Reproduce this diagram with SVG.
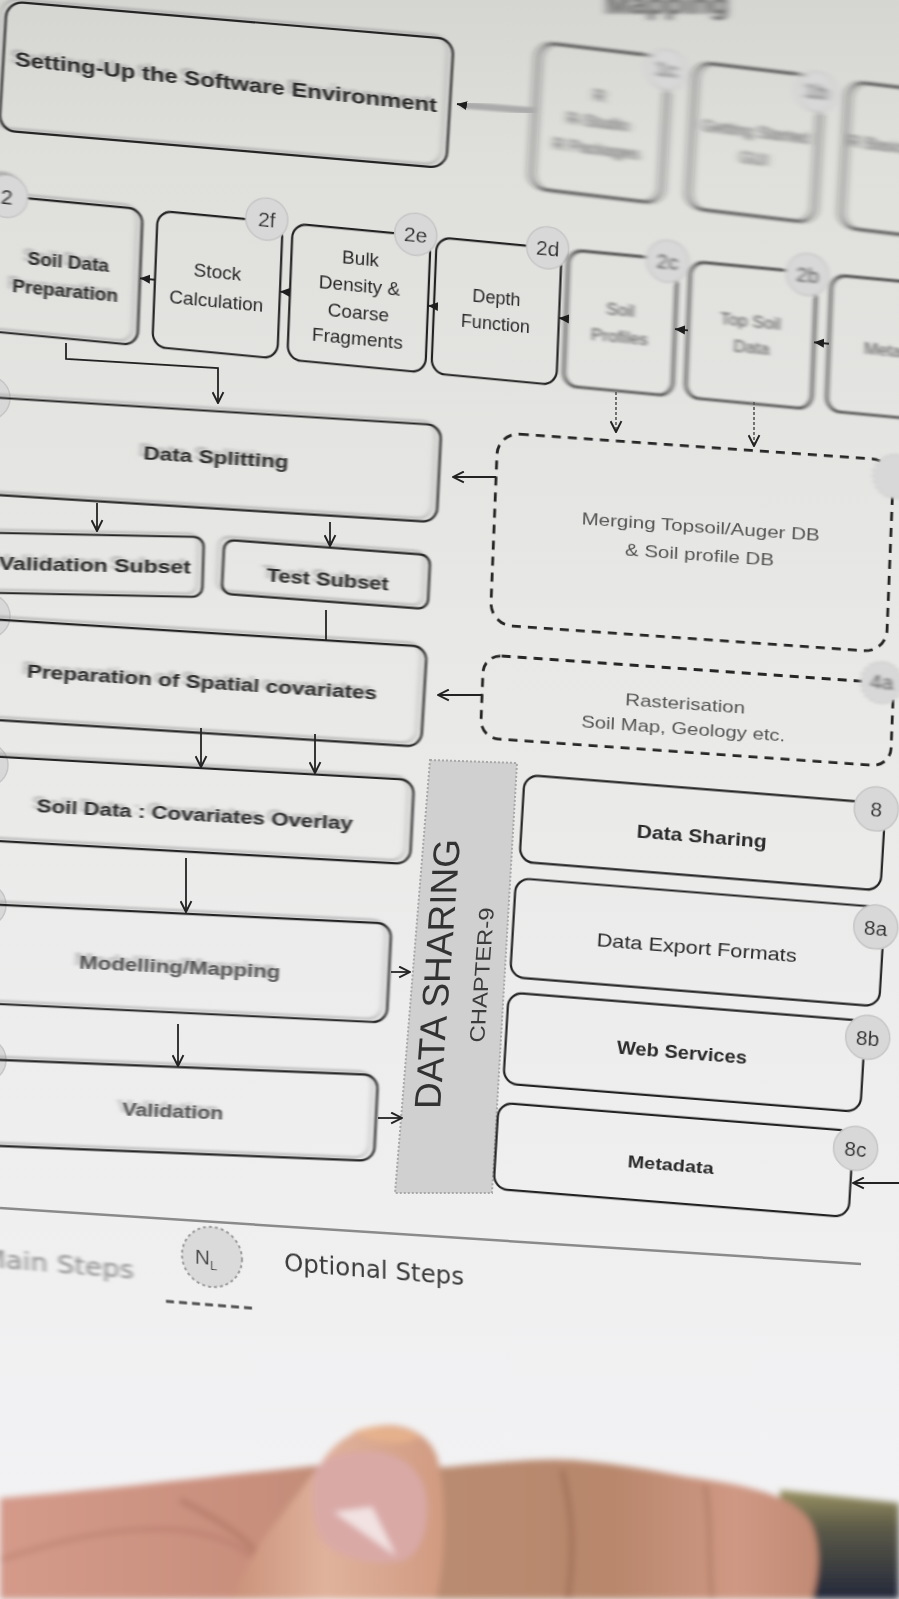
<svg xmlns="http://www.w3.org/2000/svg" width="899" height="1599" viewBox="0 0 899 1599">
  <defs>
    <linearGradient id="paper" x1="0" y1="0" x2="0" y2="1">
      <stop offset="0" stop-color="#d5d5d2"/>
      <stop offset="0.1" stop-color="#dfdfdc"/>
      <stop offset="0.4" stop-color="#e8e8e6"/>
      <stop offset="0.75" stop-color="#efeff0"/>
      <stop offset="1" stop-color="#f3f3f5"/>
    </linearGradient>
    <linearGradient id="skin" x1="0" y1="0" x2="1" y2="0">
      <stop offset="0" stop-color="#d49a8a"/>
      <stop offset="0.3" stop-color="#c98f7d"/>
      <stop offset="0.5" stop-color="#b98c72"/>
      <stop offset="0.75" stop-color="#b8876c"/>
      <stop offset="0.9" stop-color="#cf9884"/>
      <stop offset="1" stop-color="#c08a74"/>
    </linearGradient>
    <linearGradient id="thumb" x1="0" y1="0" x2="1" y2="0">
      <stop offset="0" stop-color="#c99078"/>
      <stop offset="0.45" stop-color="#e0b29c"/>
      <stop offset="1" stop-color="#d09a80"/>
    </linearGradient>
    <linearGradient id="backdrop" x1="0" y1="0" x2="0" y2="1">
      <stop offset="0" stop-color="#9a9262"/>
      <stop offset="0.35" stop-color="#5c5a48"/>
      <stop offset="1" stop-color="#23283a"/>
    </linearGradient>
    <filter id="ghost" x="-10%" y="-25%" width="120%" height="150%" color-interpolation-filters="sRGB">
      <feGaussianBlur in="SourceAlpha" stdDeviation="2.5 1" result="b"/>
      <feOffset in="b" dx="-5" dy="-3" result="o"/>
      <feFlood flood-color="#8a8a8a" flood-opacity="0.55"/>
      <feComposite in2="o" operator="in" result="g"/>
      <feGaussianBlur in="SourceGraphic" stdDeviation="0.8 0.4" result="s"/>
      <feMerge><feMergeNode in="g"/><feMergeNode in="s"/></feMerge>
    </filter>
    <filter id="soft" x="-10%" y="-20%" width="120%" height="140%">
      <feGaussianBlur stdDeviation="0.6"/>
    </filter>
    <filter id="blurMed" x="-20%" y="-20%" width="140%" height="140%">
      <feGaussianBlur stdDeviation="2.2 1"/>
    </filter>
    <filter id="blurHeavy" x="-20%" y="-20%" width="140%" height="140%">
      <feGaussianBlur stdDeviation="4 1.6"/>
    </filter>
    <filter id="blurHand" x="-10%" y="-10%" width="120%" height="120%">
      <feGaussianBlur stdDeviation="3"/>
    </filter>
    <marker id="tri" viewBox="0 0 10 10" refX="10" refY="5" markerWidth="10" markerHeight="10" markerUnits="userSpaceOnUse" orient="auto">
      <path d="M0,0.5 L10,5 L0,9.5 z" fill="#1e1e1e"/>
    </marker>
    <marker id="open" viewBox="0 0 12 12" refX="11" refY="6" markerWidth="13" markerHeight="13" markerUnits="userSpaceOnUse" orient="auto">
      <path d="M1,1 L11,6 L1,11" fill="none" stroke="#222" stroke-width="1.8"/>
    </marker>
    <style>
      .t { font-family: "Liberation Sans", Arial, sans-serif; fill: #2a2a2a; text-anchor: middle; }
      .b { font-weight: bold; }
      .box { fill: none; stroke: #242424; stroke-width: 2.2; }
      .dash { fill: none; stroke: #262626; stroke-width: 2.8; stroke-dasharray: 9 7; }
      .badge { fill: #d8d8d8; stroke: #c6c6c6; stroke-width: 1.5; }
      .bt { font-family: "Liberation Sans", Arial, sans-serif; font-size: 21px; fill: #303030; text-anchor: middle; }
      .thin { fill: #555; }
      .conn { fill: none; stroke: #222; stroke-width: 1.8; }
      .dconn { fill: none; stroke: #555; stroke-width: 1.6; stroke-dasharray: 3 2; }
    </style>
  </defs>

  <!-- sheet -->
  <rect x="0" y="0" width="899" height="1599" fill="url(#paper)"/>

  <!-- partly cut heading above the diagram -->
  <text x="667" y="14" class="t b" font-size="30" filter="url(#blurHeavy)" style="fill:#5a5a5a">Mapping</text>

  <!-- step 1 -->
  <g id="node-setup" filter="url(#ghost)">
    <rect class="box" x="3" y="1" width="447" height="129" rx="16" transform="matrix(1 0.085 -0.06 1 3.9 0)"/>
    <text class="t b" x="226" y="64" font-size="20" textLength="422" lengthAdjust="spacingAndGlyphs" transform="matrix(1 0.11 0 1 0 0)">Setting-Up the Software Environment</text>
  </g>

  <g id="node-1c" transform="matrix(1 0.12 -0.06 1 3 0)" filter="url(#blurHeavy)">
    <rect class="box" x="535" y="-22" width="130" height="146" rx="16"/>
    <text class="t thin" x="598" y="30" font-size="16">R</text>
    <text class="t thin" x="598" y="56" font-size="16">R-Studio</text>
    <text class="t thin" x="598" y="83" font-size="16">R Packages</text>
    <circle class="badge" cx="663" cy="-10" r="20"/>
    <text class="bt" x="663" y="-3">1c</text>
  </g>
  <g id="node-1b" transform="matrix(1 0.12 -0.06 1 3 0)" filter="url(#blurHeavy)">
    <rect class="box" x="692" y="-21" width="126" height="146" rx="16"/>
    <text class="t thin" x="755" y="47" font-size="16">Getting Started</text>
    <text class="t thin" x="755" y="74" font-size="16">GUI</text>
    <circle class="badge" cx="813" cy="-6" r="20"/>
    <text class="bt" x="813" y="1">1b</text>
  </g>
  <g id="node-1a" transform="matrix(1 0.12 -0.06 1 3 0)" filter="url(#blurHeavy)">
    <rect class="box" x="845" y="-20" width="120" height="146" rx="16"/>
    <text class="t thin" x="880" y="45" font-size="16">R Basics</text>
  </g>

  <!-- step 2 row -->
  <g id="node-2" transform="matrix(1 0.095 -0.04 1 10.56 0)" filter="url(#ghost)">
    <rect class="box" x="-15" y="196" width="155" height="136" rx="14"/>
    <text class="t b" x="68" y="262" font-size="19">Soil Data</text>
    <text class="t b" x="66" y="291" font-size="19">Preparation</text>
    <circle class="badge" cx="4" cy="196" r="21"/>
    <text class="bt" x="4" y="204">2</text>
  </g>
  <g id="node-2f" transform="matrix(1 0.095 -0.04 1 10.56 0)" filter="url(#soft)">
    <rect class="box" x="155" y="196" width="125" height="136" rx="14"/>
    <text class="t" x="217" y="258" font-size="19">Stock</text>
    <text class="t" x="217" y="287" font-size="19">Calculation</text>
    <circle class="badge" cx="264" cy="194" r="21"/>
    <text class="bt" x="264" y="202">2f</text>
  </g>
  <g id="node-2e" transform="matrix(1 0.095 -0.04 1 10.56 0)" filter="url(#soft)">
    <rect class="box" x="290" y="196" width="138" height="136" rx="14"/>
    <text class="t" x="359" y="231" font-size="19">Bulk</text>
    <text class="t" x="359" y="258" font-size="19">Density &amp;</text>
    <text class="t" x="359" y="285" font-size="19">Coarse</text>
    <text class="t" x="359" y="311" font-size="19">Fragments</text>
    <circle class="badge" cx="413" cy="195" r="21"/>
    <text class="bt" x="413" y="203">2e</text>
  </g>
  <g id="node-2d" transform="matrix(1 0.095 -0.04 1 10.56 0)" filter="url(#soft)">
    <rect class="box" x="434" y="196" width="125" height="136" rx="14"/>
    <text class="t" x="496" y="257" font-size="18">Depth</text>
    <text class="t" x="496" y="283" font-size="18">Function</text>
    <circle class="badge" cx="545" cy="196" r="21"/>
    <text class="bt" x="545" y="204">2d</text>
  </g>
  <g id="node-2c" transform="matrix(1 0.095 -0.04 1 10.56 0)" filter="url(#blurMed)">
    <rect class="box" x="566" y="196" width="109" height="136" rx="14"/>
    <text class="t thin" x="620" y="257" font-size="17">Soil</text>
    <text class="t thin" x="620" y="284" font-size="17">Profiles</text>
    <circle class="badge" cx="665" cy="198" r="21"/>
    <text class="bt" x="665" y="206">2c</text>
  </g>
  <g id="node-2b" transform="matrix(1 0.095 -0.04 1 10.56 0)" filter="url(#blurMed)">
    <rect class="box" x="688" y="196" width="126" height="136" rx="14"/>
    <text class="t thin" x="750" y="256" font-size="17">Top Soil</text>
    <text class="t thin" x="752" y="282" font-size="17">Data</text>
    <circle class="badge" cx="805" cy="198" r="21"/>
    <text class="bt" x="805" y="206">2b</text>
  </g>
  <g id="node-2a" transform="matrix(1 0.095 -0.04 1 10.56 0)" filter="url(#blurMed)">
    <rect class="box" x="829" y="196" width="121" height="136" rx="14"/>
    <text class="t thin" x="864" y="272" font-size="17" style="text-anchor:start">Metadata</text>
  </g>

  <!-- left column -->
  <circle class="badge" cx="-12" cy="398" r="22" filter="url(#soft)"/>
  <circle class="badge" cx="-12" cy="616" r="22" filter="url(#soft)"/>
  <circle class="badge" cx="-14" cy="765" r="22" filter="url(#soft)"/>
  <circle class="badge" cx="-16" cy="905" r="22" filter="url(#soft)"/>
  <circle class="badge" cx="-16" cy="1060" r="22" filter="url(#soft)"/>

  <g id="node-data-splitting" transform="matrix(1 0.062 -0.05 1 22.3 0)" filter="url(#ghost)">
    <rect class="box" x="-20" y="398" width="459" height="97" rx="14"/>
    <text class="t b" x="216" y="450" font-size="19" textLength="145" lengthAdjust="spacingAndGlyphs">Data Splitting</text>
  </g>
  <g id="node-validation-subset" transform="matrix(1 0.02 -0.03 1 16.9 0)" filter="url(#ghost)">
    <rect class="box" x="-20" y="533" width="223" height="60" rx="10"/>
    <text class="t b" x="95" y="570" font-size="19" textLength="192" lengthAdjust="spacingAndGlyphs">Validation Subset</text>
  </g>
  <g id="node-test-subset" transform="matrix(1 0.075 -0.05 1 27.5 0)" filter="url(#ghost)">
    <rect class="box" x="223" y="523" width="206" height="54" rx="10"/>
    <text class="t b" x="328" y="561" font-size="18" textLength="122" lengthAdjust="spacingAndGlyphs">Test Subset</text>
  </g>
  <g id="node-covariates" transform="matrix(1 0.063 -0.06 1 40.2 0)" filter="url(#ghost)">
    <rect class="box" x="-20" y="620" width="444" height="100" rx="14"/>
    <text class="t b" x="202" y="676" font-size="19" textLength="350" lengthAdjust="spacingAndGlyphs">Preparation of Spatial covariates</text>
  </g>
  <g id="node-overlay" transform="matrix(1 0.056 -0.05 1 39.95 0)" filter="url(#ghost)">
    <rect class="box" x="-20" y="757" width="432" height="84" rx="14"/>
    <text class="t b" x="195" y="810" font-size="19" textLength="316" lengthAdjust="spacingAndGlyphs">Soil Data : Covariates Overlay</text>
  </g>
  <g id="node-modelling" transform="matrix(1 0.048 -0.05 1 47.75 0)" filter="url(#ghost)">
    <rect class="box" x="-20" y="905" width="409" height="99" rx="14"/>
    <text class="t b" x="180" y="965" font-size="18" textLength="201" lengthAdjust="spacingAndGlyphs" style="fill:#555">Modelling/Mapping</text>
  </g>
  <g id="node-validation" transform="matrix(1 0.04 -0.05 1 55.15 0)" filter="url(#ghost)">
    <rect class="box" x="-20" y="1060" width="396" height="86" rx="14"/>
    <text class="t b" x="173" y="1111" font-size="18" textLength="101" lengthAdjust="spacingAndGlyphs" style="fill:#555">Validation</text>
  </g>

  <!-- optional steps -->
  <g id="node-merging" transform="matrix(1 0.07 -0.04 1 19.76 0)" filter="url(#soft)">
    <rect class="dash" x="494" y="398" width="396" height="192" rx="22"/>
    <text class="t thin" x="700" y="484" font-size="17" textLength="238" lengthAdjust="spacingAndGlyphs">Merging Topsoil/Auger DB</text>
    <text class="t thin" x="700" y="512" font-size="17" textLength="149" lengthAdjust="spacingAndGlyphs">&amp; Soil profile DB</text>
    <circle class="badge" cx="892" cy="414" r="22" stroke="#888" stroke-dasharray="3 3" filter="url(#blurMed)"/>
  </g>
  <g id="node-rasterisation" transform="matrix(1 0.07 -0.04 1 26.5 0)" filter="url(#soft)">
    <rect class="dash" x="482" y="621" width="410" height="83" rx="18"/>
    <text class="t thin" x="685" y="661" font-size="17" textLength="120" lengthAdjust="spacingAndGlyphs">Rasterisation</text>
    <text class="t thin" x="684" y="686" font-size="17" textLength="204" lengthAdjust="spacingAndGlyphs">Soil Map, Geology etc.</text>
    <g filter="url(#blurMed)">
      <circle class="badge" cx="880" cy="621" r="21" stroke="#888" stroke-dasharray="3 3"/>
      <text class="bt" x="880" y="628">4a</text>
    </g>
  </g>

  <!-- chapter band -->
  <g id="node-chapter" filter="url(#soft)">
    <polygon points="430,760 517,763 492,1193 395,1193" fill="#d0d0d0" stroke="#a8a8a8" stroke-width="2" stroke-dasharray="2 2"/>
    <g transform="matrix(1 0 -0.075 1 73.1 0)">
      <text class="t" transform="translate(450 974) rotate(-90)" font-size="37" textLength="270" lengthAdjust="spacingAndGlyphs" style="fill:#333">DATA SHARING</text>
      <text class="t" transform="translate(489 975) rotate(-90)" font-size="21" textLength="135" lengthAdjust="spacingAndGlyphs" style="fill:#3a3a3a">CHAPTER-9</text>
    </g>
  </g>

  <!-- step 8 column -->
  <g id="node-8" transform="matrix(1 0.08 -0.06 1 46.6 0)" filter="url(#soft)">
    <rect class="box" x="522" y="733" width="361" height="87" rx="14"/>
    <text class="t b" x="702" y="787" font-size="18" textLength="130" lengthAdjust="spacingAndGlyphs">Data Sharing</text>
    <circle class="badge" cx="874" cy="739" r="22"/>
    <text class="bt" x="874" y="747">8</text>
  </g>
  <g id="node-8a" transform="matrix(1 0.08 -0.06 1 53.2 0)" filter="url(#soft)">
    <rect class="box" x="513" y="837" width="369" height="99" rx="14"/>
    <text class="t" x="697" y="898" font-size="19" textLength="200" lengthAdjust="spacingAndGlyphs">Data Export Formats</text>
    <circle class="badge" cx="874" cy="857" r="22"/>
    <text class="bt" x="874" y="865">8a</text>
  </g>
  <g id="node-8b" transform="matrix(1 0.08 -0.06 1 59.8 0)" filter="url(#soft)">
    <rect class="box" x="506" y="952" width="357" height="91" rx="14"/>
    <text class="t b" x="682" y="1004" font-size="18" textLength="130" lengthAdjust="spacingAndGlyphs">Web Services</text>
    <circle class="badge" cx="866" cy="968" r="22"/>
    <text class="bt" x="866" y="976">8b</text>
  </g>
  <g id="node-8c" transform="matrix(1 0.08 -0.06 1 66.4 0)" filter="url(#soft)">
    <rect class="box" x="496" y="1063" width="355" height="86" rx="14"/>
    <text class="t b" x="671" y="1117" font-size="17" textLength="86" lengthAdjust="spacingAndGlyphs">Metadata</text>
    <circle class="badge" cx="854" cy="1080" r="22"/>
    <text class="bt" x="854" y="1088">8c</text>
  </g>

  <!-- connectors -->
  <g id="connectors">
    <g filter="url(#blurMed)">
      <path d="M535 111 L462 105" stroke="#aaa" stroke-width="7" fill="none"/>
    </g>
    <path d="M463 105 L457 104" class="conn" marker-end="url(#tri)"/>
    <g transform="matrix(1 0.095 -0.04 1 10.56 0)">
      <path class="conn" d="M155 265 H140" marker-end="url(#tri)"/>
      <path class="conn" d="M290 265 H280" marker-end="url(#tri)"/>
      <path class="conn" d="M434 265 H428" marker-end="url(#tri)"/>
      <path class="conn" d="M566 265 H559" marker-end="url(#tri)"/>
      <path class="conn" d="M688 265 H675" marker-end="url(#tri)"/>
      <path class="conn" d="M829 265 H814" marker-end="url(#tri)"/>
    </g>
    <g filter="url(#soft)">
      <path class="conn" d="M66 343 V359 L218 368 V403" marker-end="url(#open)"/>
      <path class="conn" d="M97 503 V531" marker-end="url(#open)"/>
      <path class="conn" d="M330 522 V546" marker-end="url(#open)"/>
      <path class="conn" d="M496 477 H453" marker-end="url(#open)"/>
      <path class="conn" d="M326 610 V641"/>
      <path class="conn" d="M482 695 H438" marker-end="url(#open)"/>
      <path class="dconn" d="M616 392 V432" marker-end="url(#open)"/>
      <path class="dconn" d="M754 402 V446" marker-end="url(#open)"/>
      <path class="conn" d="M201 728 V767" marker-end="url(#open)"/>
      <path class="conn" d="M315 734 V773" marker-end="url(#open)"/>
      <path class="conn" d="M186 858 V912" marker-end="url(#open)"/>
      <path class="conn" d="M178 1024 V1066" marker-end="url(#open)"/>
      <path class="conn" d="M391 972 H410" marker-end="url(#open)"/>
      <path class="conn" d="M378 1118 H402" marker-end="url(#open)"/>
      <path class="conn" d="M899 1183 H853" marker-end="url(#open)"/>
    </g>
  </g>

  <!-- rule and legend -->
  <path d="M0 1208 L861 1264" stroke="#8a8a8a" stroke-width="2.5" fill="none" filter="url(#soft)"/>
  <g id="legend" transform="matrix(1 0.08 0 1 0 0)">
    <text x="-18" y="1268" font-family="DejaVu Sans, sans-serif" font-size="25" fill="#8a8a8a" textLength="152" lengthAdjust="spacingAndGlyphs" filter="url(#blurMed)">Main Steps</text>
    <g filter="url(#soft)">
      <circle cx="212" cy="1240" r="30" fill="#dadada" stroke="#999" stroke-width="2" stroke-dasharray="3 3"/>
      <text x="206" y="1248" font-family="Liberation Sans, sans-serif" font-size="21" fill="#444" text-anchor="middle">N<tspan font-size="13" dy="5">L</tspan></text>
      <path d="M166 1288 H252" stroke="#555" stroke-width="3" stroke-dasharray="8 5" fill="none"/>
    </g>
    <text x="284" y="1248" font-family="DejaVu Sans, sans-serif" font-size="25" fill="#3a3a3a" textLength="180" lengthAdjust="spacingAndGlyphs" filter="url(#soft)">Optional Steps</text>
  </g>

  <!-- hand holding the sheet -->
  <g filter="url(#blurHand)">
    <path d="M780 1490 L899 1503 V1599 H780 Z" fill="url(#backdrop)"/>
    <path d="M0 1498 C80 1492 200 1478 321 1465 L447 1467 C500 1462 540 1458 573 1460 C630 1465 660 1472 688 1477 C760 1486 800 1500 812 1525 C822 1550 818 1580 812 1599 H0 Z" fill="url(#skin)"/>
    <path d="M0 1560 C60 1540 120 1525 180 1530 C230 1535 270 1560 290 1599" stroke="#b27565" stroke-width="5" fill="none" opacity="0.5"/>
    <path d="M180 1500 C220 1520 250 1540 262 1560" stroke="#a86d5c" stroke-width="6" fill="none" opacity="0.5"/>
    <path d="M562 1470 C572 1510 575 1545 568 1599" stroke="#96654f" stroke-width="6" fill="none" opacity="0.55"/>
    <path d="M705 1485 C712 1520 708 1560 712 1599" stroke="#a06d57" stroke-width="5" fill="none" opacity="0.45"/>
    <path d="M321 1463 C335 1440 360 1425 390 1425 C420 1427 438 1445 440 1470 C446 1505 446 1560 436 1599 L229 1599 C245 1570 258 1545 270 1530 C290 1505 305 1485 321 1463 Z" fill="url(#thumb)"/>
    <path d="M352 1432 C370 1424 400 1424 420 1436 C410 1445 380 1446 352 1432 Z" fill="#e8b48c" opacity="0.8"/>
    <path d="M316 1470 C326 1455 350 1450 378 1452 C408 1456 426 1476 427 1505 C428 1530 420 1552 405 1560 C380 1568 340 1560 322 1540 C312 1520 310 1490 316 1470 Z" fill="#d9a9a6"/>
    <path d="M334 1512 L372 1507 L396 1556 Z" fill="#f2e2e2"/>
  </g>
</svg>
